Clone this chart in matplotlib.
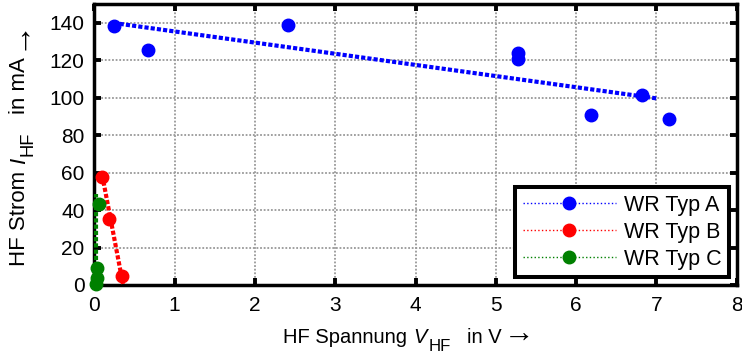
import matplotlib
matplotlib.use("Agg")
import matplotlib.pyplot as plt
from matplotlib.lines import Line2D
from matplotlib.transforms import IdentityTransform

plt.rcParams['font.family'] = ['Liberation Sans', 'DejaVu Sans']

# Messpunkte
xA = [0.24, 0.67, 2.41, 5.28, 5.28, 6.19, 6.82, 7.16]
yA = [138.4, 125.6, 139.0, 123.8, 121.0, 90.8, 101.5, 88.5]
xB = [0.10, 0.19, 0.34]
yB = [57.6, 35.5, 5.0]
xC = [0.054, 0.03, 0.03, 0.02]
yC = [43.5, 8.9, 3.6, 0.5]

# Ausgleichsgeraden
fitA_x = [0.24, 7.0]
fitA_y = [140.0, 99.7]
fitB_x = [0.10, 0.36]
fitB_y = [58.5, 0.0]
fitC_x = [0.02, 0.02]
fitC_y = [0.0, 48.5]

labels = ['WR Typ A', 'WR Typ B', 'WR Typ C']
farben = ['blue', 'red', 'green']

fig = plt.figure(figsize=(7.42, 3.54), dpi=100)
ax = fig.add_axes([0.127, 0.195, 0.866, 0.793])

for fx, fy, c in [(fitA_x, fitA_y, farben[0]), (fitB_x, fitB_y, farben[1]), (fitC_x, fitC_y, farben[2])]:
    ax.plot(fx, fy, color=c, lw=3, dashes=(1.0, 0.5), zorder=3)
for px, py, c in [(xA, yA, farben[0]), (xB, yB, farben[1]), (xC, yC, farben[2])]:
    ax.plot(px, py, 'o', color=c, ms=9, zorder=4, clip_on=False)

ax.set_xlim(0, 8)
ax.set_ylim(0, 150)
ax.set_xticks(range(0, 9))
ax.set_yticks(range(0, 141, 20))
ax.grid(True, color='#999999', lw=1.3, dashes=(1, 1))
ax.set_axisbelow(True)
for s in ax.spines.values():
    s.set_linewidth(2.5)
ax.tick_params(direction='in', length=5, width=2.8, top=True, right=True, labelsize=15)
ax.tick_params(axis='x', pad=8)
ax.tick_params(axis='y', pad=7)

handles = [Line2D([], [], color=c, ls=':', lw=1, marker='o', ms=9) for c in farben]
leg = ax.legend(handles, labels, loc='lower right', fontsize=15.5, frameon=True, fancybox=False,
                edgecolor='black', framealpha=1, borderaxespad=0.35, handlelength=4.3,
                handletextpad=0.4, labelspacing=0.28, borderpad=0.35)
leg.get_frame().set_linewidth(2.9)

# Achsenbeschriftungen stueckweise (grosser, tiefer Index wie im Original)
renderer = fig.canvas.get_renderer()
H = 354


def beschriftung(teile, x0, y0, rot):
    pos = 0.0
    for txt, size, style, drop, gap in teile:
        if rot:
            x, y = x0 + drop, y0 + pos
        else:
            x, y = x0 + pos, y0 - drop
        t = fig.text(x, y, txt, fontsize=size, style=style, transform=IdentityTransform(),
                     rotation=90 if rot else 0, rotation_mode='anchor',
                     ha='left', va='baseline')
        bb = t.get_window_extent(renderer)
        pos += (bb.height if rot else bb.width) + gap


fs = 14.5
beschriftung([('HF Spannung', fs, 'normal', 0, 6),
              ('V', fs, 'italic', 0, 2),
              ('HF', fs * 0.83, 'normal', 8, 16),
              ('in V', fs, 'normal', 0, 2),
              ('→', 22, 'normal', 0, 0)], 283, H - 343, False)
fy = 16
beschriftung([('HF Strom', fy, 'normal', 0, 7),
              ('I', fy, 'italic', 0, 2),
              ('HF', fy * 0.83, 'normal', 8, 17),
              ('in mA', fy, 'normal', 0, 7),
              ('→', 23, 'normal', 0, 0)], 25, H - 266, True)

fig.savefig('out.png', dpi=100)
